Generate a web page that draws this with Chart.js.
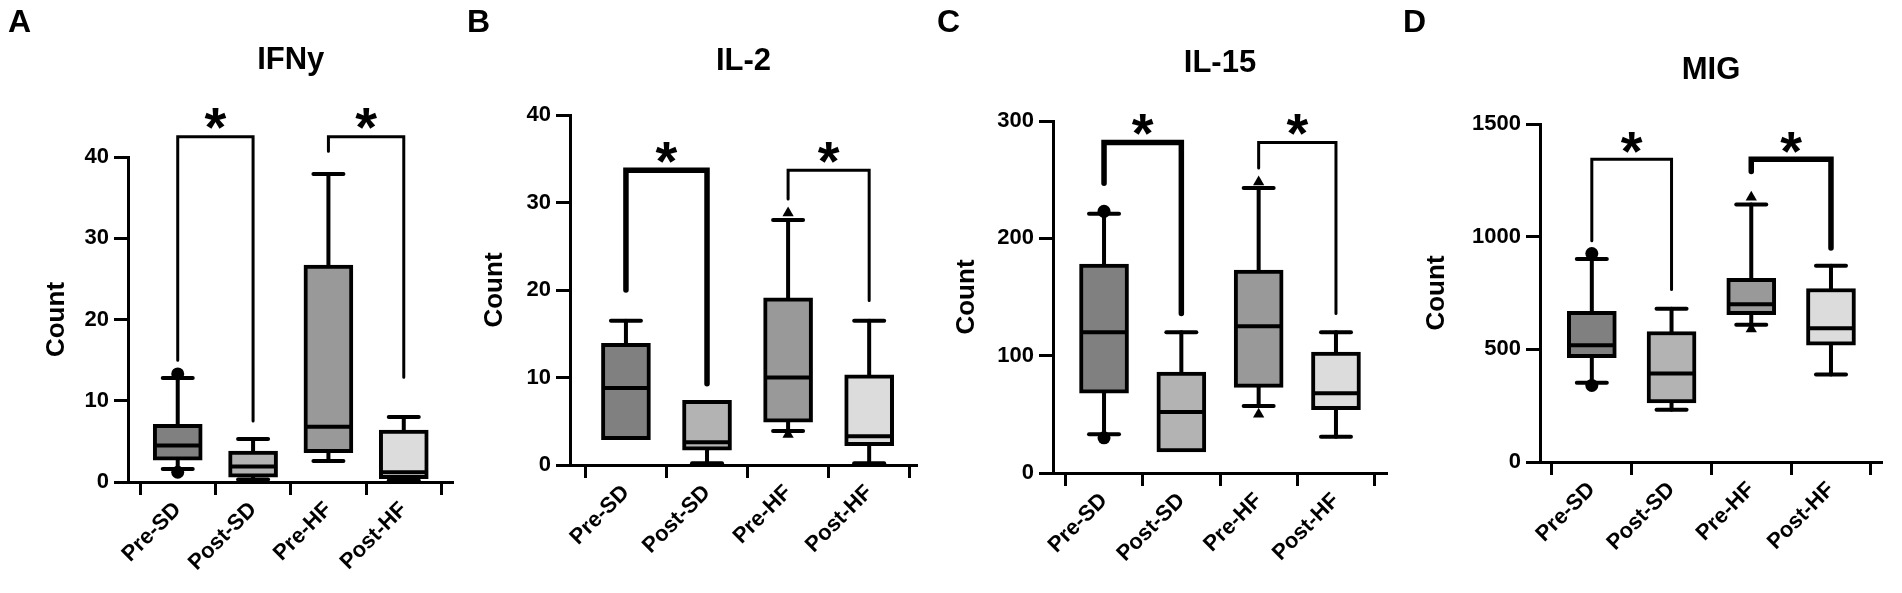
<!DOCTYPE html>
<html>
<head>
<meta charset="utf-8">
<script src="https://cdn.jsdelivr.net/npm/chart.js@4.4.1/dist/chart.umd.min.js"></script>
<style>
  html, body { margin: 0; padding: 0; background: #fff; }
  #wrap { position: relative; width: 1902px; height: 593px; overflow: hidden; }
  .panel { position: absolute; top: 0; height: 593px; }
</style>
</head>
<body>
<div id="wrap">
  <div class="panel" style="left:0;width:460px"><canvas id="chartA"></canvas></div>
  <div class="panel" style="left:460px;width:470px"><canvas id="chartB"></canvas></div>
  <div class="panel" style="left:930px;width:470px"><canvas id="chartC"></canvas></div>
  <div class="panel" style="left:1400px;width:502px"><canvas id="chartD"></canvas></div>
</div>
<script>
// grupos
const categories = ['Pre-SD', 'Post-SD', 'Pre-HF', 'Post-HF'];

// cajas: [min, q1, mediana, q3, max] por grupo
const ifnyBoxes = [[1.6, 2.7, 4.5, 7.1, 12.8], [0.3, 0.6, 1.9, 3.8, 5.3], [2.6, 3.6, 6.8, 26.7, 37.9], [0.2, 0.4, 1.2, 6.4, 8.0]];
const il2Boxes  = [[2.9, 2.9, 8.8, 13.9, 16.5], [0.2, 1.7, 2.6, 7.4, 7.4], [3.9, 4.9, 10.0, 19.1, 28.0], [0.2, 2.2, 3.3, 10.3, 16.5]];
const il15Boxes = [[33, 68, 120, 178, 221], [18, 18, 52, 86, 120], [57, 73, 125, 173, 243], [31, 54, 68, 103, 120]];
const migBoxes  = [[352, 463, 518, 669, 901], [232, 262, 393, 579, 680], [609, 654, 700, 815, 1143], [388, 518, 594, 770, 871]];

// puntos extremos marcados
const ifnyMarks = [[13.3, 1.2], [], [], []];
const il2Marks  = [[], [], [28.8, 3.5], []];
const il15Marks = [[223, 30], [], [248, 50], []];
const migMarks  = [[925, 340], [], [1175, 590], []];

// corchetes de significancia: [altura, fin pata izq, fin pata der]
const ifnyBrackets = [[42.5, 15.0, 7.5], [42.5, 40.7, 12.9]];
const il2Brackets  = [[33.7, 20.0, 9.3], [33.7, 30.4, 18.8]];
const il15Brackets = [[281.6, 247, 136], [281.6, 260, 136]];
const migBrackets  = [[1344, 982, 765], [1344, 1289, 950]];

// altura de los asteriscos
const ifnyStars = [45.4, 45.4];
const il2Stars  = [36.3, 36.3];
const il15Stars = [301, 301];
const migStars  = [1442, 1442];

// ticks del eje y
const ifnyTicks = [0, 10, 20, 30, 40];
const il2Ticks  = [0, 10, 20, 30, 40];
const il15Ticks = [0, 100, 200, 300];
const migTicks  = [0, 500, 1000, 1500];

const boxColors = ['#808080', '#b3b3b3', '#999999', '#dcdcdc'];
const markStyles = ['circle', 'circle', 'triangle', 'triangle'];
const FONT = '"Liberation Sans", Arial, sans-serif';
Chart.defaults.font.family = FONT;
Chart.defaults.color = '#000';

const BOX_W = 49;
const CAP_HALF = 15;

function seg(ctx, x0, y0, x1, y1) {
  ctx.beginPath();
  ctx.moveTo(x0, y0);
  ctx.lineTo(x1, y1);
  ctx.stroke();
}

// bigotes, medianas, corchetes y textos
const boxExtras = {
  id: 'boxExtras',
  beforeDatasetsDraw(chart, args, o) {
    const { ctx, scales: { x, y } } = chart;
    ctx.save();
    ctx.strokeStyle = '#000';
    ctx.lineWidth = 4;
    ctx.lineCap = 'round';
    o.boxes.forEach((b, i) => {
      const cx = x.getPixelForValue(i);
      const [lo, q1, , q3, hi] = b;
      if (hi > q3) {
        seg(ctx, cx, y.getPixelForValue(q3), cx, y.getPixelForValue(hi));
        seg(ctx, cx - CAP_HALF, y.getPixelForValue(hi), cx + CAP_HALF, y.getPixelForValue(hi));
      }
      if (lo < q1) {
        seg(ctx, cx, y.getPixelForValue(q1), cx, y.getPixelForValue(lo));
        seg(ctx, cx - CAP_HALF, y.getPixelForValue(lo), cx + CAP_HALF, y.getPixelForValue(lo));
      }
    });
    ctx.restore();
  },
  afterDatasetsDraw(chart, args, o) {
    const { ctx, chartArea, scales: { x, y } } = chart;
    ctx.save();
    ctx.strokeStyle = '#000';
    ctx.fillStyle = '#000';
    // medianas
    ctx.lineWidth = 4;
    ctx.lineCap = 'butt';
    o.boxes.forEach((b, i) => {
      const cx = x.getPixelForValue(i);
      const ym = y.getPixelForValue(b[2]);
      seg(ctx, cx - BOX_W / 2 + 2, ym, cx + BOX_W / 2 - 2, ym);
    });
    // corchetes
    ctx.lineCap = 'round';
    ctx.lineJoin = 'miter';
    o.brackets.forEach((br, k) => {
      const x0 = x.getPixelForValue(2 * k);
      const x1 = x.getPixelForValue(2 * k + 1);
      ctx.lineWidth = o.bracketWidths[k];
      ctx.beginPath();
      ctx.moveTo(x0, y.getPixelForValue(br[1]));
      ctx.lineTo(x0, y.getPixelForValue(br[0]));
      ctx.lineTo(x1, y.getPixelForValue(br[0]));
      ctx.lineTo(x1, y.getPixelForValue(br[2]));
      ctx.stroke();
      // asterisco
      const fs = 56;
      ctx.font = 'bold ' + fs + 'px ' + FONT;
      ctx.textAlign = 'center';
      ctx.textBaseline = 'alphabetic';
      ctx.fillText('*', (x0 + x1) / 2, y.getPixelForValue(o.stars[k]) + 0.58 * fs);
    });
    // titulo
    ctx.font = 'bold 31px ' + FONT;
    ctx.textAlign = 'center';
    ctx.fillText(o.title, (chartArea.left + chartArea.right) / 2, o.titleY);
    // letra del panel
    ctx.font = 'bold 32px ' + FONT;
    ctx.textAlign = 'left';
    ctx.fillText(o.letter, o.letterX, 32);
    ctx.restore();
  }
};

function makePanel(p) {
  const markData = [];
  const markPts = [];
  p.marks.forEach((vals, i) => vals.forEach(v => {
    markData.push({ x: i, y: v });
    markPts.push(markStyles[i]);
  }));
  return new Chart(document.getElementById(p.id), {
    type: 'bar',
    data: {
      datasets: [{
        data: p.boxes.map((b, i) => ({ x: i, y: [b[1], b[3]] })),
        backgroundColor: boxColors,
        borderColor: '#000',
        borderWidth: 4,
        borderSkipped: false,
        barThickness: BOX_W,
        order: 2
      }, {
        type: 'scatter',
        data: markData,
        pointStyle: markPts,
        pointRadius: 6.5,
        pointBackgroundColor: '#000',
        pointBorderColor: '#000',
        pointBorderWidth: 0,
        order: 1
      }]
    },
    options: {
      responsive: true,
      maintainAspectRatio: false,
      animation: false,
      layout: { padding: { top: p.pad.top, left: p.pad.left, right: p.pad.right, bottom: 0 } },
      plugins: {
        legend: { display: false },
        tooltip: { enabled: false },
        boxExtras: {
          boxes: p.boxes, brackets: p.brackets, stars: p.stars,
          bracketWidths: p.bracketWidths, title: p.title, titleY: p.titleY,
          letter: p.letter, letterX: p.letterX
        }
      },
      scales: {
        x: {
          type: 'linear',
          offset: false,
          min: p.xRange[0],
          max: p.xRange[1],
          afterBuildTicks: s => { s.ticks = categories.map((c, i) => ({ value: i })); },
          afterFit: s => { s.height = p.xHeight; },
          ticks: {
            callback: v => categories[v],
            autoSkip: false,
            minRotation: 45,
            maxRotation: 45,
            padding: 2,
            font: { size: 22, weight: 'bold' }
          },
          grid: { drawOnChartArea: false, tickLength: 13, tickWidth: 3, tickColor: '#000' },
          border: { color: '#000', width: 3 }
        },
        y: {
          min: 0,
          max: p.ticks[p.ticks.length - 1],
          afterBuildTicks: s => { s.ticks = p.ticks.map(v => ({ value: v })); },
          afterFit: s => { s.width = p.yWidth; },
          ticks: { padding: 5, callback: v => String(v), font: { size: 22, weight: 'bold' } },
          grid: { drawOnChartArea: false, tickLength: 14, tickWidth: 3, tickColor: '#000' },
          border: { color: '#000', width: 3 },
          title: { display: true, text: 'Count', padding: 0, font: { size: 26, weight: 'bold' } }
        }
      }
    },
    plugins: [boxExtras]
  });
}

makePanel({ id: 'chartA', title: 'IFNy', letter: 'A', letterX: 8, titleY: 69,
  boxes: ifnyBoxes, marks: ifnyMarks, brackets: ifnyBrackets, stars: ifnyStars, ticks: ifnyTicks,
  xRange: [-0.66, 3.66], pad: { top: 157, left: 41, right: 5 }, yWidth: 87, xHeight: 111, bracketWidths: [3, 3] });
makePanel({ id: 'chartB', title: 'IL-2', letter: 'B', letterX: 7, titleY: 70,
  boxes: il2Boxes, marks: il2Marks, brackets: il2Brackets, stars: il2Stars, ticks: il2Ticks,
  xRange: [-0.69, 3.59], pad: { top: 115, left: 19, right: 13 }, yWidth: 91, xHeight: 128, bracketWidths: [5.5, 3] });
makePanel({ id: 'chartC', title: 'IL-15', letter: 'C', letterX: 7, titleY: 72,
  boxes: il15Boxes, marks: il15Marks, brackets: il15Brackets, stars: il15Stars, ticks: il15Ticks,
  xRange: [-0.66, 3.66], pad: { top: 121, left: 21, right: 13 }, yWidth: 102, xHeight: 120, bracketWidths: [5.5, 3] });
makePanel({ id: 'chartD', title: 'MIG', letter: 'D', letterX: 3, titleY: 79,
  boxes: migBoxes, marks: migMarks, brackets: migBrackets, stars: migStars, ticks: migTicks,
  xRange: [-0.65, 3.64], pad: { top: 124, left: 21, right: 20 }, yWidth: 119, xHeight: 131, bracketWidths: [3, 5.5] });
</script>
</body>
</html>
